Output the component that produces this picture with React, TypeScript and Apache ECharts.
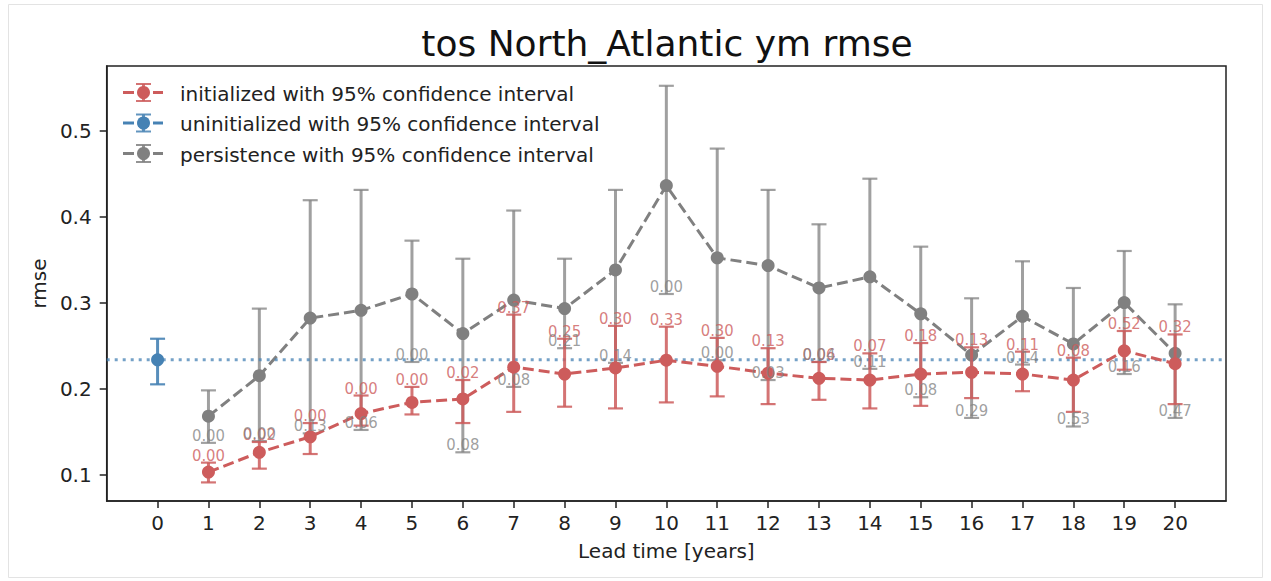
import React, { useEffect, useRef } from "react";
import * as echarts from "echarts";

// ---- data ----
const leadTimes = [1, 2, 3, 4, 5, 6, 7, 8, 9, 10, 11, 12, 13, 14, 15, 16, 17, 18, 19, 20];

const initMean = [0.103, 0.126, 0.144, 0.171, 0.184, 0.188, 0.225, 0.217, 0.224, 0.233, 0.226, 0.218, 0.212, 0.210, 0.217, 0.219, 0.217, 0.210, 0.244, 0.229];
const initLow = [0.091, 0.107, 0.124, 0.157, 0.170, 0.160, 0.173, 0.179, 0.177, 0.184, 0.191, 0.182, 0.187, 0.177, 0.180, 0.189, 0.197, 0.173, 0.222, 0.182];
const initHigh = [0.114, 0.138, 0.160, 0.192, 0.202, 0.210, 0.286, 0.258, 0.273, 0.272, 0.259, 0.247, 0.231, 0.241, 0.253, 0.248, 0.243, 0.236, 0.267, 0.263];
const initPLabels = ["0.00", "0.02", "0.00", "0.00", "0.00", "0.02", "0.37", "0.25", "0.30", "0.33", "0.30", "0.13", "0.06", "0.07", "0.18", "0.13", "0.11", "0.08", "0.52", "0.32"];

const persMean = [0.168, 0.215, 0.282, 0.291, 0.310, 0.264, 0.303, 0.293, 0.338, 0.436, 0.352, 0.343, 0.317, 0.330, 0.287, 0.239, 0.284, 0.252, 0.300, 0.241];
const persLow = [0.137, 0.139, 0.148, 0.152, 0.231, 0.126, 0.202, 0.247, 0.230, 0.310, 0.233, 0.210, 0.231, 0.223, 0.190, 0.166, 0.228, 0.156, 0.217, 0.166];
const persHigh = [0.198, 0.293, 0.419, 0.431, 0.372, 0.351, 0.407, 0.351, 0.431, 0.552, 0.479, 0.431, 0.391, 0.444, 0.365, 0.305, 0.348, 0.317, 0.360, 0.298];
const persPLabels = ["0.00", "0.00", "0.13", "0.06", "0.00", "0.08", "0.08", "0.21", "0.14", "0.00", "0.00", "0.03", "0.04", "0.11", "0.08", "0.29", "0.14", "0.53", "0.16", "0.47"];

const uninitLead = [0];
const uninitMean = [0.2335];
const uninitLow = [0.205];
const uninitHigh = [0.258];

const xTicks = [0, 1, 2, 3, 4, 5, 6, 7, 8, 9, 10, 11, 12, 13, 14, 15, 16, 17, 18, 19, 20];
const yTicks = [0.1, 0.2, 0.3, 0.4, 0.5];
const xRange = [-1, 21];

const legendLabels = [
  "initialized with 95% confidence interval",
  "uninitialized with 95% confidence interval",
  "persistence with 95% confidence interval",
];

const RED = "#cd5c5c";
const BLUE = "#4682b4";
const GRAY = "#808080";
const FONT = "DejaVu Sans";

function errorBarRender(color: string, opacity: number) {
  return (params: any, api: any) => {
    const x = api.value(0);
    const lo = api.coord([x, api.value(1)]);
    const hi = api.coord([x, api.value(2)]);
    const cap = 7.5;
    const s = { stroke: color, lineWidth: 3, opacity };
    const c = { stroke: color, lineWidth: 2.2, opacity };
    return {
      type: "group",
      children: [
        { type: "line", shape: { x1: lo[0], y1: lo[1], x2: hi[0], y2: hi[1] }, style: s },
        { type: "line", shape: { x1: lo[0] - cap, y1: lo[1], x2: lo[0] + cap, y2: lo[1] }, style: c },
        { type: "line", shape: { x1: hi[0] - cap, y1: hi[1], x2: hi[0] + cap, y2: hi[1] }, style: c },
      ],
    };
  };
}

function labelRender(labels: string[], color: string, opacity: number) {
  return (params: any, api: any) => {
    const p = api.coord([api.value(0), api.value(1)]);
    return {
      type: "text",
      x: p[0],
      y: p[1] + 1,
      style: {
        text: labels[params.dataIndex],
        fill: color,
        opacity,
        fontSize: 16.5,
        fontFamily: '"DejaVu Sans Condensed", "DejaVu Sans"',
        align: "center",
        verticalAlign: "bottom",
      },
    };
  };
}

function legendGraphic() {
  const rows = [92.5, 123, 153.5];
  const colors = [RED, BLUE, GRAY];
  const els: any[] = [];
  rows.forEach((y, i) => {
    const col = colors[i];
    const cx = 143.5;
    els.push({ type: "line", shape: { x1: 123, y1: y, x2: 134, y2: y }, style: { stroke: col, lineWidth: 3 } });
    els.push({ type: "line", shape: { x1: 153, y1: y, x2: 163, y2: y }, style: { stroke: col, lineWidth: 3 } });
    els.push({ type: "line", shape: { x1: cx, y1: y - 8.5, x2: cx, y2: y + 8.5 }, style: { stroke: col, lineWidth: 3, opacity: 0.85 } });
    els.push({ type: "line", shape: { x1: cx - 7.5, y1: y - 8.5, x2: cx + 7.5, y2: y - 8.5 }, style: { stroke: col, lineWidth: 2, opacity: 0.85 } });
    els.push({ type: "line", shape: { x1: cx - 7.5, y1: y + 8.5, x2: cx + 7.5, y2: y + 8.5 }, style: { stroke: col, lineWidth: 2, opacity: 0.85 } });
    els.push({ type: "circle", shape: { cx, cy: y, r: 6.5 }, style: { fill: col } });
    els.push({
      type: "text",
      x: 180,
      y: y + 1,
      style: { text: legendLabels[i], fill: "#222", fontSize: 20, fontFamily: FONT, verticalAlign: "middle", align: "left" },
    });
  });
  return els;
}

export default function App() {
  const ref = useRef<HTMLDivElement>(null);

  useEffect(() => {
    if (!ref.current) return;
    const chart = echarts.init(ref.current, null, { renderer: "svg" });

    const initPts = leadTimes.map((x, i) => [x, initMean[i]]);
    const persPts = leadTimes.map((x, i) => [x, persMean[i]]);
    const initBars = leadTimes.map((x, i) => [x, initLow[i], initHigh[i]]);
    const persBars = leadTimes.map((x, i) => [x, persLow[i], persHigh[i]]);
    const uninitBars = uninitLead.map((x, i) => [x, uninitLow[i], uninitHigh[i]]);
    const uninitPts = uninitLead.map((x, i) => [x, uninitMean[i]]);
    const uninitLevel = xRange.map((x) => [x, uninitMean[0]]);

    const option: any = {
      animation: false,
      backgroundColor: "#ffffff",
      title: {
        text: "tos North_Atlantic ym rmse",
        left: 662,
        top: 20,
        textAlign: "center",
        textStyle: { fontSize: 36, fontWeight: "normal", color: "#111", fontFamily: FONT },
      },
      grid: {
        left: 106.7,
        right: 45,
        top: 66,
        bottom: 80,
        show: true,
        borderColor: "#222",
        borderWidth: 1.5,
        backgroundColor: "transparent",
      },
      xAxis: {
        type: "value",
        min: xRange[0],
        max: xRange[1],
        interval: 1,
        axisLine: { show: true, onZero: false, lineStyle: { color: "#222", width: 1.5 } },
        axisTick: { show: true, length: 7, customValues: xTicks, lineStyle: { color: "#222", width: 1.5 } },
        axisLabel: { customValues: xTicks, fontSize: 20, color: "#222", margin: 12, fontFamily: FONT },
        splitLine: { show: false },
        name: "Lead time [years]",
        nameLocation: "middle",
        nameGap: 40,
        nameTextStyle: { fontSize: 20, color: "#222", fontFamily: FONT },
      },
      yAxis: {
        type: "value",
        min: 0.0694,
        max: 0.575,
        axisLine: { show: true, onZero: false, lineStyle: { color: "#222", width: 1.5 } },
        axisTick: { show: true, length: 7, customValues: yTicks, lineStyle: { color: "#222", width: 1.5 } },
        axisLabel: {
          customValues: yTicks,
          fontSize: 20,
          color: "#222",
          margin: 15,
          fontFamily: FONT,
          formatter: (v: number) => v.toFixed(1),
        },
        splitLine: { show: false },
        name: "rmse",
        nameLocation: "middle",
        nameGap: 58,
        nameRotate: 90,
        nameTextStyle: { fontSize: 20, color: "#222", fontFamily: FONT },
      },
      graphic: [
        {
          type: "rect",
          shape: { x: 8.5, y: 4.5, width: 1254, height: 573 },
          style: { fill: "none", stroke: "#e3e3e3", lineWidth: 1 },
          silent: true,
          z: -10,
        },
        ...legendGraphic(),
      ],
      series: [
        {
          name: "persistence CI",
          type: "custom",
          renderItem: errorBarRender(GRAY, 0.75),
          data: persBars,
          encode: { x: 0, y: [1, 2] },
          z: 1,
        },
        {
          name: "persistence with 95% confidence interval",
          type: "line",
          data: persPts,
          symbol: "circle",
          symbolSize: 13,
          itemStyle: { color: GRAY },
          lineStyle: { color: GRAY, width: 3, type: [11, 5] },
          z: 2,
        },
        {
          name: "uninitialized level",
          type: "line",
          data: uninitLevel,
          symbol: "none",
          silent: true,
          lineStyle: { color: BLUE, width: 3, type: [3, 5], opacity: 0.75 },
          z: 3,
        },
        {
          name: "initialized CI",
          type: "custom",
          renderItem: errorBarRender(RED, 0.85),
          data: initBars,
          encode: { x: 0, y: [1, 2] },
          z: 4,
        },
        {
          name: "initialized with 95% confidence interval",
          type: "line",
          data: initPts,
          symbol: "circle",
          symbolSize: 13,
          itemStyle: { color: RED },
          lineStyle: { color: RED, width: 3, type: [11, 5] },
          z: 5,
        },
        {
          name: "uninitialized CI",
          type: "custom",
          renderItem: errorBarRender(BLUE, 0.9),
          data: uninitBars,
          encode: { x: 0, y: [1, 2] },
          z: 6,
        },
        {
          name: "uninitialized with 95% confidence interval",
          type: "scatter",
          data: uninitPts,
          symbol: "circle",
          symbolSize: 13,
          itemStyle: { color: BLUE, opacity: 1 },
          z: 7,
        },
        {
          name: "initialized p",
          type: "custom",
          renderItem: labelRender(initPLabels, RED, 0.8),
          data: leadTimes.map((x, i) => [x, initHigh[i]]),
          encode: { x: 0, y: 1 },
          z: 8,
        },
        {
          name: "persistence p",
          type: "custom",
          renderItem: labelRender(persPLabels, GRAY, 0.75),
          data: leadTimes.map((x, i) => [x, persLow[i]]),
          encode: { x: 0, y: 1 },
          z: 9,
        },
      ],
    };

    chart.setOption(option);
    return () => chart.dispose();
  }, []);

  return (
    <div
      ref={ref}
      style={{ position: "absolute", left: 0, top: 0, width: 1271, height: 581, background: "#fff" }}
    />
  );
}
